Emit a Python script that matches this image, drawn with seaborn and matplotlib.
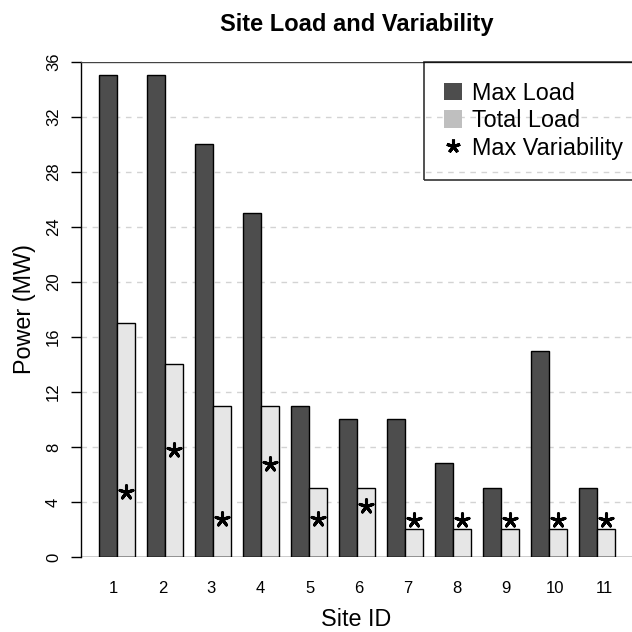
import numpy as np
import pandas as pd
import matplotlib
matplotlib.use("Agg")
import matplotlib.pyplot as plt
import seaborn as sns
from matplotlib.patches import Patch
from matplotlib.lines import Line2D

# data
sites = ['1', '2', '3', '4', '5', '6', '7', '8', '9', '10', '11']
max_load = [35, 35, 30, 25, 11, 10, 10, 6.8, 5, 15, 5]
total_load = [17, 14, 11, 11, 5, 5, 2, 2, 2, 2, 2]
max_var = [4.75, 7.75, 2.75, 6.75, 2.75, 3.7, 2.7, 2.7, 2.7, 2.7, 2.7]

series_names = ['Max Load', 'Total Load']
dark = '#4d4d4d'
light = '#e6e6e6'

df = pd.DataFrame({
    'site': sites * 2,
    'power': max_load + total_load,
    'series': [series_names[0]] * len(sites) + [series_names[1]] * len(sites),
})

sns.set_theme(style='white')
plt.rcParams['font.family'] = ['Liberation Sans', 'DejaVu Sans']
plt.rcParams['text.color'] = 'black'
plt.rcParams['axes.labelcolor'] = 'black'
plt.rcParams['xtick.color'] = 'black'
plt.rcParams['ytick.color'] = 'black'

W = 632.0
fig = plt.figure(figsize=(6.32, 6.32), dpi=100)
ax = fig.add_axes([80.7 / W, 75 / W, (W - 80.7) / W, 495.3 / W])

# grid behind bars
for y in range(4, 36, 4):
    ax.axhline(y, color='#d3d3d3', lw=1, ls=(0, (4, 4)), zorder=0)

sns.barplot(data=df, x='site', y='power', hue='series', order=sites,
            hue_order=series_names, palette=[dark, light], width=0.75,
            edgecolor='black', linewidth=1, saturation=1, legend=False,
            ax=ax, zorder=2)

# max variability stars, sitting on the total-load bars
xpos = np.arange(len(sites)) + 0.1875
ax.scatter(xpos, max_var, marker=(5, 2, 0), s=95, color='black',
           linewidths=2.2, zorder=4)

ax.axhline(0, color='black', lw=1, zorder=3)
ax.axhline(36, color='#444444', lw=1, zorder=3)

ax.set_ylim(0, 36)
ax.set_xlim(-0.7625, (W - 117.3) / 48)

ax.set_yticks(range(0, 37, 4))
ax.tick_params(axis='y', left=True, direction='out', length=7.2, width=1,
               color='black', labelcolor='black', pad=7, labelsize=12)
for lab in ax.get_yticklabels():
    lab.set_rotation(90)
    lab.set_va('center')

ax.set_xticks(np.arange(len(sites)) * 1.022 - 0.083, labels=sites)
ax.tick_params(axis='x', bottom=False, length=0, pad=17, labelsize=12,
               labelcolor='black')

for side in ['top', 'right', 'bottom']:
    ax.spines[side].set_visible(False)
ax.spines['left'].set_color('black')
ax.spines['left'].set_linewidth(1)

ax.set_xlabel('Site ID', fontsize=16.8, labelpad=9)
ax.set_ylabel('Power (MW)', fontsize=16.8, labelpad=7)
ax.set_title('Site Load and Variability', fontsize=17, fontweight='bold', pad=22)

handles = [
    Patch(facecolor=dark, edgecolor='none'),
    Patch(facecolor='#bfbfbf', edgecolor='none'),
    Line2D([], [], marker=(5, 2, 0), ls='none', color='black',
           markersize=10, markeredgewidth=2.2),
]
leg = ax.legend(handles, ['Max Load', 'Total Load', 'Max Variability'],
                loc='upper left', bbox_to_anchor=((424 - 80.7) / (W - 80.7), 1.0, 0.7, 0),
                mode='expand', borderaxespad=0, fontsize=16.8, frameon=True,
                fancybox=False, handlelength=0.77, handleheight=0.77,
                handletextpad=0.45, borderpad=0.85, labelspacing=0.2)
leg.get_frame().set_facecolor('none')
leg.get_frame().set_edgecolor('black')
leg.get_frame().set_linewidth(1.2)

fig.savefig('out.png', dpi=100)
